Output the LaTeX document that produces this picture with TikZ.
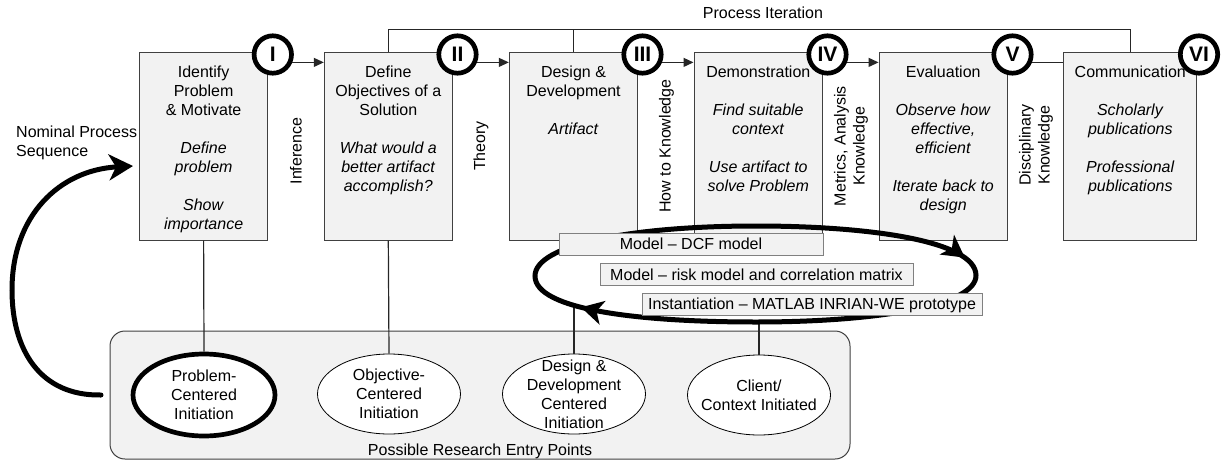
\documentclass[tikz,border=0pt]{standalone}
\usepackage{fontspec}
\setmainfont{Liberation Sans}
\usetikzlibrary{arrows.meta,shapes.geometric,decorations.markings}
\definecolor{boxfill}{HTML}{F2F2F2}
\definecolor{boxline}{HTML}{404040}
\definecolor{lblline}{HTML}{808080}
\begin{document}
\begin{tikzpicture}[x=1pt,y=-1pt, font=\fontsize{16}{19}\selectfont,
 box/.style={draw=boxline, fill=boxfill, line width=1pt, minimum height=188pt, inner sep=0pt},
 txt/.style={anchor=north, align=center, inner sep=0pt},
 rl/.style={rotate=90, align=center, inner sep=0pt},
 num/.style={circle, draw=black, fill=white, line width=4.7pt, minimum size=37.4pt, inner sep=0pt, font=\fontsize{21}{21}\selectfont\bfseries},
 ent/.style={ellipse, draw=black, fill=white, line width=0.8pt, minimum width=143pt, minimum height=80pt, inner sep=0pt},
 lbl/.style={draw=lblline, fill=boxfill, line width=1pt, inner sep=0pt, minimum height=22pt, text height=11.4pt, text depth=0pt},
 conn/.style={line width=1.2pt, draw=black!85},
 tip/.style={-{Triangle[length=10pt,width=9pt]}},
 bigtip/.style={-{Stealth[length=24pt,width=26pt,inset=7pt]}},
]
\useasboundingbox (0,0) rectangle (1221,461);

% entry points area
\node[draw=boxline, fill=boxfill, rounded corners=15pt, line width=1pt, minimum width=740pt, minimum height=128pt, inner sep=0pt] (entry) at (480,395) {};
\node[anchor=base, inner sep=0pt] (entrylbl) at (480,455) {Possible Research Entry Points};

% activity boxes
\node[box, minimum width=128.2pt] (b1) at (203.6,146) {};
\node[box, minimum width=128.0pt] (b2) at (388.3,146) {};
\node[box, minimum width=128.4pt] (b3) at (573.5,146) {};
\node[box, minimum width=128.6pt] (b4) at (758.3,146) {};
\node[box, minimum width=128.3pt] (b5) at (943.2,146) {};
\node[box, minimum width=132.7pt] (b6) at (1130.3,146) {};

% entry ellipses
\node[ent, line width=4.7pt, minimum width=142pt, minimum height=82pt] (e1) at (204,395) {};
\node[ent] (e2) at (389,394) {};
\node[ent] (e3) at (574,394) {};
\node[ent] (e4) at (759,395) {};
\node[align=center, inner sep=0pt] (e1t) at (e1) {Problem-\\Centered\\Initiation};
\node[align=center, inner sep=0pt] (e2t) at (e2) {Objective-\\Centered\\Initiation};
\node[align=center, inner sep=0pt] (e3t) at (e3) {Design \&\\Development\\Centered\\Initiation};
\node[align=center, inner sep=0pt] (e4t) at (e4) {Client/\\Context Initiated};

\draw[conn] (b1.south) -- (e1.north);
\draw[conn] (b2.south) -- (e2.north);
\coordinate (l3) at (0,304);
\coordinate (l4) at (0,322);
\draw[conn] (e3.north |- l3) -- (e3.north);
\draw[conn] (e4.north |- l4) -- (e4.north);

% process iteration
\coordinate (pit) at (0,29.3);
\draw[conn] (b2.north) -- (b2.north |- pit) -- (b6.north |- pit) -- (b6.north);
\draw[conn] (b3.north) -- (b3.north |- pit);
\node[anchor=base, inner sep=0pt] (pilbl) at (763,18.5) {Process Iteration};

% artifact loop
\draw[line width=5pt, postaction={decorate}, decoration={markings,
  mark=at position 0.478 with {\arrow{Stealth[length=22pt,width=24pt,inset=6pt]}},
  mark=at position 0.937 with {\arrow{Stealth[length=22pt,width=24pt,inset=6pt]}}}]
  (535,276) .. controls (535,245) and (630,226) .. (756,226)
  .. controls (870,226) and (975,241) .. (976,275)
  .. controls (977,305) and (880,322) .. (756,322)
  .. controls (640,322) and (535,310) .. cycle;

\node[lbl, minimum width=264pt] (dcf) at (691,244) {Model -- DCF model};
\node[lbl, minimum width=313pt] (risk) at (756.5,274.5) {Model -- risk model and correlation matrix};
\node[lbl, minimum width=340pt] (inst) at (812,304) {Instantiation -- MATLAB INRIAN-WE prototype};

% box texts
\node[txt] (t1) at (203.6,63.7) {\strut Identify\\Problem\\\& Motivate\\[19pt]\textit{Define}\\\textit{problem}\\[19pt]\textit{Show}\\\textit{importance}};
\node[txt] (t2) at (388.3,63.7) {\strut Define\\Objectives of a\\Solution\\[19pt]\textit{What would a}\\\textit{better artifact}\\\textit{accomplish?}};
\node[txt] (t3) at (573.5,63.7) {\strut Design \&\\Development\\[19pt]\textit{Artifact}};
\node[txt] (t4) at (758.3,63.7) {\strut Demonstration\\[19pt]\textit{Find suitable}\\\textit{context}\\[19pt]\textit{Use artifact to}\\\textit{solve Problem}};
\node[txt] (t5) at (943.2,63.7) {\strut Evaluation\\[19pt]\textit{Observe how}\\\textit{effective,}\\\textit{efficient}\\[19pt]\textit{Iterate back to}\\\textit{design}};
\node[txt] (t6) at (1130.3,63.7) {\strut Communication\\[19pt]\textit{Scholarly}\\\textit{publications}\\[19pt]\textit{Professional}\\\textit{publications}};

% knowledge labels
\node[rl] (inf) at (296,151) {Inference};
\node[rl] (thy) at (481,146) {Theory};
\node[rl] (htk) at (666.5,146) {How to Knowledge};
\node[rl] (mak) at (851,146) {Metrics, Analysis\\Knowledge};
\node[rl] (dk) at (1036,145) {Disciplinary\\Knowledge};

% nominal process sequence
\node[anchor=north west, align=left, inner sep=0pt] (nps) at (16,123.7) {\strut Nominal Process\\Sequence};
\draw[line width=5pt, line cap=round, bigtip] ([xshift=-8.5pt]entry.west) .. controls (40,396) and (12,350) .. (12,290) .. controls (12,215) and (60,170) .. ([xshift=-6pt,yshift=-20pt]b1.west);

% numbered circles
\node[num] (c1) at (272.8,54.5) {I};
\node[num] (c2) at (457.5,54.5) {II};
\node[num] (c3) at (642.5,54.5) {III};
\node[num] (c4) at (827.5,54.5) {IV};
\node[num] (c5) at (1012.5,54.5) {V};
\node[num] (c6) at (1199,54.5) {VI};

\draw[conn, tip] (c1.-22) -- (b2.west |- c1.-22);
\draw[conn, tip] (c2.-22) -- (b3.west |- c2.-22);
\draw[conn, tip] (c3.-22) -- (b4.west |- c3.-22);
\draw[conn, tip] (c4.-22) -- (b5.west |- c4.-22);
\draw[conn] (c5.-22) -- (b6.west |- c5.-22);
\end{tikzpicture}
\end{document}
